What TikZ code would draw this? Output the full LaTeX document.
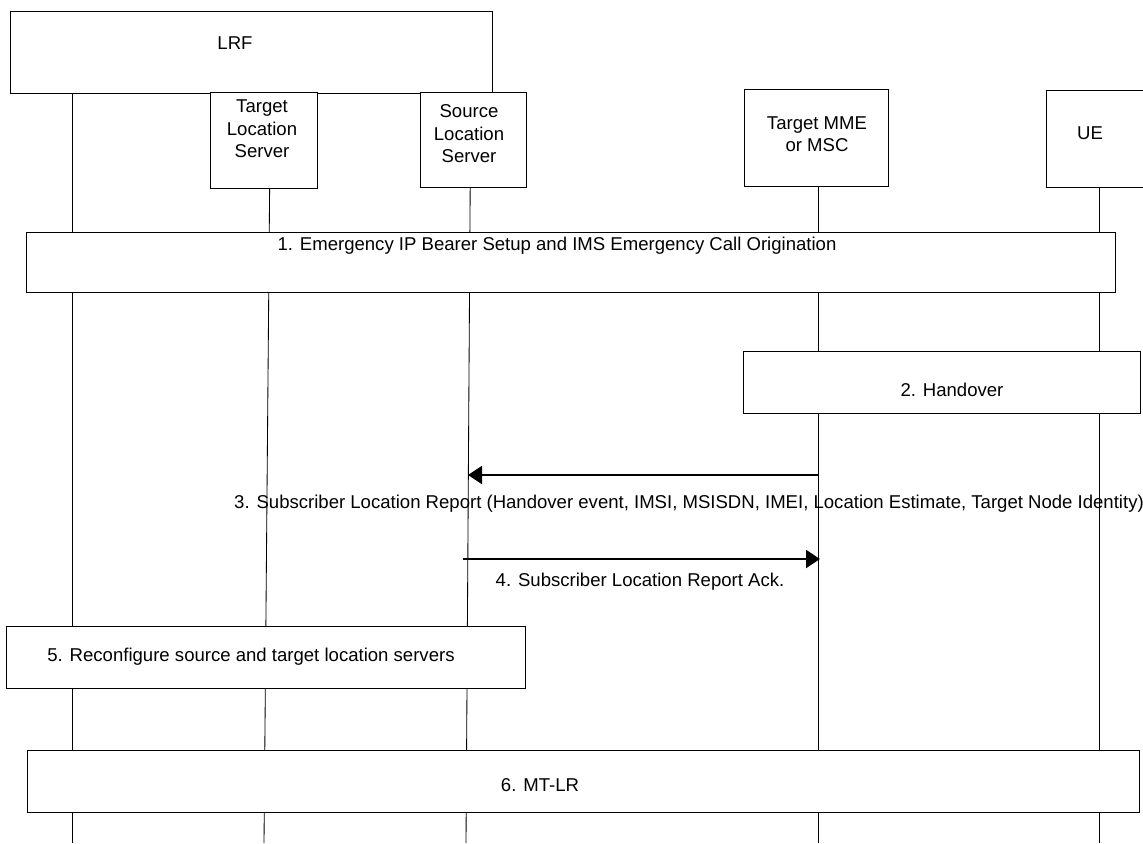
\documentclass[tikz,border=0pt]{standalone}
\usepackage{fontspec}
\setmainfont{Liberation Sans}
\usetikzlibrary{arrows.meta,positioning}

\begin{document}
\begin{tikzpicture}[
    x=0.025cm, y=-0.025cm,
    every node/.style={font=\fontsize{13.2}{16}\selectfont},
    entity/.style={draw,fill=white,line width=0.7pt,inner sep=0pt},
    stepbox/.style={draw,fill=white,line width=0.7pt,inner sep=0pt},
    lbl/.style={align=center,inner sep=0pt},
    life/.style={line width=0.6pt},
    msg/.style={line width=1.4pt,-{Triangle[length=0.35cm,width=0.45cm]}}
]
\useasboundingbox (0,0) rectangle (1143,843);

\node[entity,minimum width=12.025cm,minimum height=2.05cm] (lrf) at (251.5,52) {};
\node[lbl] (lrftxt) at (235,43) {LRF};
\node[entity,minimum width=2.65cm,minimum height=2.375cm] (tls) at (264,140.5) {};
\node[lbl] (tlstxt) at (262,129) {Target\\Location\\Server};
\node[entity,minimum width=2.65cm,minimum height=2.35cm] (sls) at (473,140) {};
\node[lbl] (slstxt) at (469,134) {Source\\Location\\Server};
\node[entity,minimum width=3.6cm,minimum height=2.4cm] (mme) at (816,138) {};
\node[lbl] (mmetxt) at (817,134) {Target MME\\or MSC};
\node[entity,minimum width=2.7cm,minimum height=2.4cm] (ue) at (1100,139) {};
\node[lbl] (uetxt) at (1090,133) {UE};

\coordinate (lrfend) at (72,843);
\coordinate (tlsend) at (264,843);
\coordinate (slsend) at (466,843);
\coordinate (mmeend) at (818,843);
\coordinate (ueend) at (1099,843);

\draw[life] (lrf.south -| lrfend) -- (lrfend);
\draw[life] ([xshift=4]tls.south) -- (tlsend);
\draw[life] ([xshift=-2]sls.south) -- (slsend);
\draw[life] (mme.south -| mmeend) -- (mmeend);
\draw[life] (ue.south -| ueend) -- (ueend);

\node[stepbox,minimum width=27.2cm,minimum height=1.5cm] (setup) at (571,262) {};
\node[lbl] (setuptxt) at (557,246) {1. Emergency IP Bearer Setup and IMS Emergency Call Origination};
\node[stepbox,minimum width=9.9cm,minimum height=1.55cm] (ho) at (942,382) {};
\node[lbl] (hotxt) at (952,390) {2. Handover};

\coordinate (rptfrom) at (818,475);
\coordinate (rptto) at (468,475);
\draw[msg] (rptfrom) -- (rptto);
\node[lbl] (rpttxt) at (689,504) {3. Subscriber Location Report (Handover event, IMSI, MSISDN, IMEI, Location Estimate, Target Node Identity)};

\coordinate (ackfrom) at (463,559);
\coordinate (ackto) at (820,559);
\draw[msg] (ackfrom) -- (ackto);
\node[lbl] (acktxt) at (640,582) {4. Subscriber Location Report Ack.};

\node[stepbox,minimum width=12.95cm,minimum height=1.55cm] (reconf) at (266,657.5) {};
\node[lbl] (reconftxt) at (251,657) {5. Reconfigure source and target location servers};
\node[stepbox,minimum width=27.775cm,minimum height=1.55cm] (mtlr) at (583.5,781) {};
\node[lbl] (mtlrtxt) at (540,785) {6. MT-LR};
\end{tikzpicture}
\end{document}
